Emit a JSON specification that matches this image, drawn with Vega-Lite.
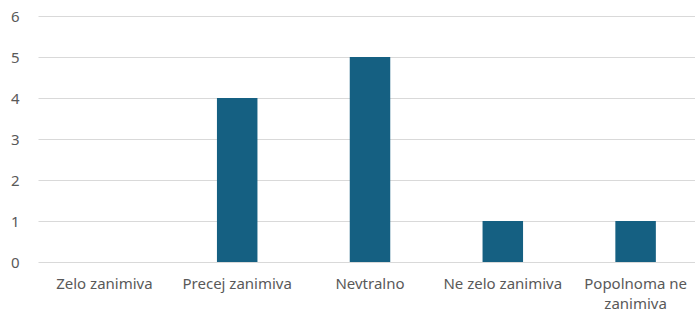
{
  "$schema": "https://vega.github.io/schema/vega-lite/v6.json",
  "autosize": "none",
  "padding": {"left": 38, "top": 16, "right": 0, "bottom": 55},
  "width": 664,
  "height": 246,
  "background": "white",
  "config": {"view": {"stroke": null}, "font": "Noto Sans"},
  "data": {"values": [
    {"category": "Zelo zanimiva", "value": 0},
    {"category": "Precej zanimiva", "value": 4},
    {"category": "Nevtralno", "value": 5},
    {"category": "Ne zelo zanimiva", "value": 1},
    {"category": "Popolnoma ne zanimiva", "value": 1}
  ]},
  "mark": {"type": "bar", "color": "#156082"},
  "encoding": {
    "x": {
      "field": "category", "type": "nominal", "sort": null,
      "scale": {"paddingInner": 0.695, "paddingOuter": 0.3475},
      "axis": {
        "title": null, "labelAngle": 0, "domain": false, "ticks": false,
        "labelFontSize": 15, "labelColor": "#595959", "labelPadding": 14,
        "labelLineHeight": 20, "labelOverlap": false, "labelBound": false,
        "labelExpr": "datum.label == 'Popolnoma ne zanimiva' ? ['Popolnoma ne', 'zanimiva'] : datum.label"
      }
    },
    "y": {
      "field": "value", "type": "quantitative",
      "scale": {"domain": [0, 6]},
      "axis": {
        "title": null, "domain": false, "ticks": false, "values": [0,1,2,3,4,5,6],
        "labelFontSize": 15, "labelColor": "#595959", "labelPadding": 19,
        "labelOverlap": false, "labelBound": false, "labelFlush": false,
        "gridColor": "#d9d9d9", "gridWidth": 1
      }
    }
  }
}
